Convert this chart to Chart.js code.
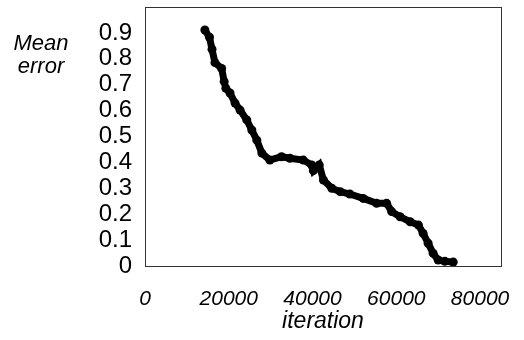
<!DOCTYPE html>
<html>
<head>
<meta charset="utf-8">
<script src="https://cdn.jsdelivr.net/npm/chart.js@4/dist/chart.umd.min.js"></script>
<style>
  html, body { margin: 0; padding: 0; background: #fff; }
  #wrap { width: 524px; height: 340px; position: relative; }
</style>
</head>
<body>
<div id="wrap"><canvas id="error-canva"></canvas></div>
<script>
const iterations = [14300, 15400, 16000, 16700, 18300, 18900, 19300, 20300, 21500, 22700,
  24300, 25500, 26700, 27900, 29800, 32600, 34600, 37800, 39800, 40200,
  41600, 42600, 44600, 46600, 48900, 52100, 55300, 57700, 58900, 60900,
  63300, 65300, 66400, 67600, 68800, 70000, 71600, 73600];
const meanError = [0.911, 0.883, 0.837, 0.785, 0.763, 0.712, 0.686, 0.668, 0.629, 0.602,
  0.564, 0.525, 0.486, 0.436, 0.409, 0.422, 0.416, 0.409, 0.390, 0.368,
  0.390, 0.332, 0.300, 0.287, 0.278, 0.261, 0.242, 0.242, 0.210, 0.190,
  0.171, 0.158, 0.126, 0.088, 0.049, 0.023, 0.018, 0.015];
const yTicks = [0, 0.1, 0.2, 0.3, 0.4, 0.5, 0.6, 0.7, 0.8, 0.9];
const xTicks = [0, 20000, 40000, 60000, 80000];
const yTitle = ['Mean', 'error'];

const FONT = "'Liberation Sans', Arial, sans-serif";

// box round the plot + the two-line y title on the left
const framePlugin = {
  id: 'frame',
  afterDraw(chart) {
    const { ctx, chartArea: a } = chart;
    ctx.save();
    ctx.strokeStyle = '#333';
    ctx.lineWidth = 1;
    ctx.strokeRect(a.left + 0.5, a.top + 0.5, a.right - a.left, a.bottom - a.top);
    ctx.fillStyle = '#000';
    ctx.font = 'italic 22px ' + FONT;
    ctx.textAlign = 'center';
    ctx.textBaseline = 'alphabetic';
    ctx.fillText(yTitle[0], 41, 50);
    ctx.fillText(yTitle[1], 41, 73);
    ctx.restore();
  }
};

const data = {
  datasets: [{
    label: 'Mean error',
    data: iterations.map((x, i) => ({ x: x, y: meanError[i] })),
    borderColor: '#000',
    backgroundColor: '#000',
    borderWidth: 7,
    pointRadius: 4.5,
    pointBorderWidth: 0,
    tension: 0
  }]
};

const config = {
  type: 'scatter',
  data: data,
  options: {
    responsive: false,
    animation: false,
    showLine: true,
    layout: { padding: { top: 7, right: 23, left: 0, bottom: 0 } },
    plugins: {
      legend: { display: false },
      tooltip: { enabled: false }
    },
    scales: {
      x: {
        type: 'linear',
        min: 0,
        max: 85000,
        afterFit(scale) {
          scale.height = 74;
          scale.paddingLeft = 0;
          scale.paddingRight = 0;
        },
        afterBuildTicks(scale) { scale.ticks = xTicks.map(v => ({ value: v })); },
        grid: { display: false, drawTicks: false },
        border: { display: false },
        ticks: {
          color: '#000',
          padding: 21,
          maxRotation: 0,
          autoSkip: false,
          font: { family: FONT, size: 21, style: 'italic' },
          callback: v => String(v)
        },
        title: {
          display: true,
          text: 'iteration',
          color: '#000',
          padding: { top: 0, bottom: 5 },
          font: { family: FONT, size: 23, style: 'italic' }
        }
      },
      y: {
        min: 0,
        max: 1.0,
        afterFit(scale) {
          scale.width = 145;
          scale.paddingTop = 0;
          scale.paddingBottom = 0;
        },
        afterBuildTicks(scale) { scale.ticks = yTicks.map(v => ({ value: v })); },
        grid: { display: false, drawTicks: false },
        border: { display: false },
        ticks: {
          color: '#000',
          padding: 13,
          autoSkip: false,
          font: { family: FONT, size: 24 },
          callback: v => String(v)
        }
      }
    }
  },
  plugins: [framePlugin]
};

const canva = document.getElementById('error-canva');
canva.width = 524;
canva.height = 340;
let chart = new Chart(canva, config);
</script>
</body>
</html>
